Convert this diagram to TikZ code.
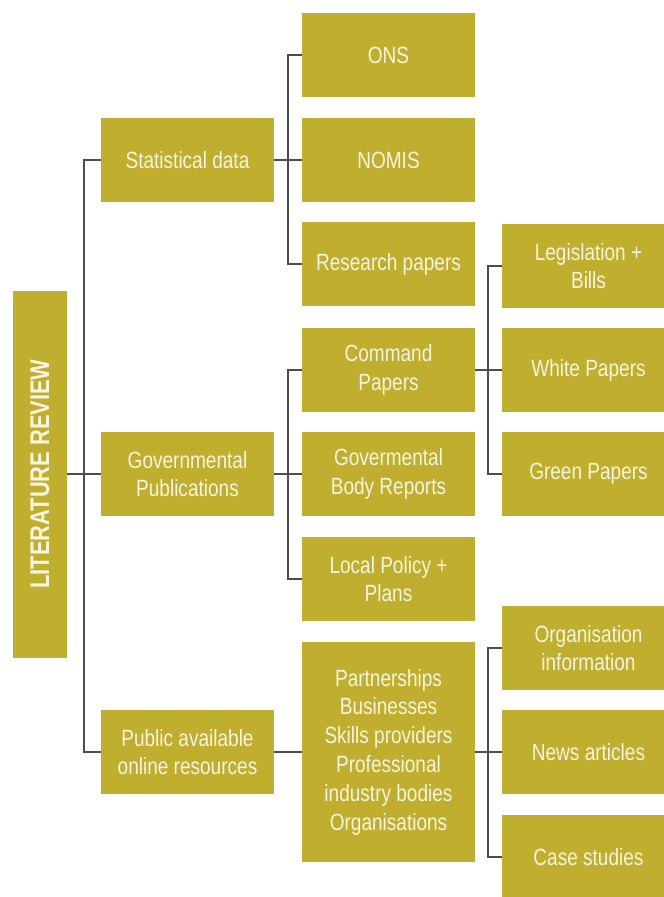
\documentclass[tikz,border=0pt]{standalone}
\usepackage{fontspec}
\setmainfont[FakeStretch=0.81]{Liberation Sans}
\definecolor{olive}{HTML}{C0AF2E}
\definecolor{cream}{HTML}{F8F4E0}
\definecolor{wire}{HTML}{4D4D4D}
\begin{document}
\begin{tikzpicture}[x=1pt,y=-1pt,
  box/.style={fill=olive,draw=none,inner sep=0pt,align=center,text=cream,
    font=\fontsize{23.5}{28.8}\selectfont},
  lvone/.style={box,minimum width=173pt,minimum height=83.5pt},
  wirestyle/.style={draw=wire,line width=2pt}]
\useasboundingbox (0,0) rectangle (664,897);
\clip (0,0) rectangle (664,897);

% root
\node[box,minimum width=54pt,minimum height=367pt] (lr) at (40,474)
  {\rotatebox{90}{\fontsize{27}{30}\selectfont\bfseries LITERATURE REVIEW}};

% first level
\node[lvone] (stat) at (187.5,160) {Statistical data};
\node[lvone] (gov)  at (187.5,474) {Governmental\\Publications};
\node[lvone] (pub)  at (187.5,752) {Public available\\online resources};

% second level
\node[lvone] (ons)      at (388.5,55)  {ONS};
\node[lvone] (nomis)    at (388.5,160) {NOMIS};
\node[lvone] (research) at (388.5,264) {Research papers};
\node[lvone] (command)  at (388.5,370) {Command\\Papers};
\node[lvone] (govbody)  at (388.5,474) {Govermental\\Body Reports};
\node[lvone] (local)    at (388.5,579) {Local Policy +\\Plans};
\node[lvone,minimum height=220.5pt] (partner) at (388.5,752)
  {Partnerships\\Businesses\\Skills providers\\Professional\\industry bodies\\Organisations};

% third level (runs past the right and bottom edges)
\node[lvone] (legis)   at (588.5,266) {Legislation +\\Bills};
\node[lvone] (white)   at (588.5,370) {White Papers};
\node[lvone] (green)   at (588.5,474) {Green Papers};
\node[lvone] (orginfo) at (588.5,648) {Organisation\\information};
\node[lvone] (news)    at (588.5,752) {News articles};
\node[lvone] (case)    at (588.5,856.75) {Case studies};

% connectors
\draw[wirestyle] (lr.east) -- (gov.west);
\draw[wirestyle] (stat.west) -- ++(-17,0) |- (pub.west);

\draw[wirestyle] (stat.east) -- (nomis.west);
\draw[wirestyle] (ons.west) -- ++(-14,0) |- (research.west);

\draw[wirestyle] (gov.east) -- (govbody.west);
\draw[wirestyle] (command.west) -- ++(-14,0) |- (local.west);

\draw[wirestyle] (pub.east) -- (partner.west);

\draw[wirestyle] (command.east) -- (white.west);
\draw[wirestyle] (legis.west) -- ++(-14,0) |- (green.west);

\draw[wirestyle] (partner.east) -- (news.west);
\draw[wirestyle] (orginfo.west) -- ++(-14,0) |- (case.west);
\end{tikzpicture}
\end{document}
